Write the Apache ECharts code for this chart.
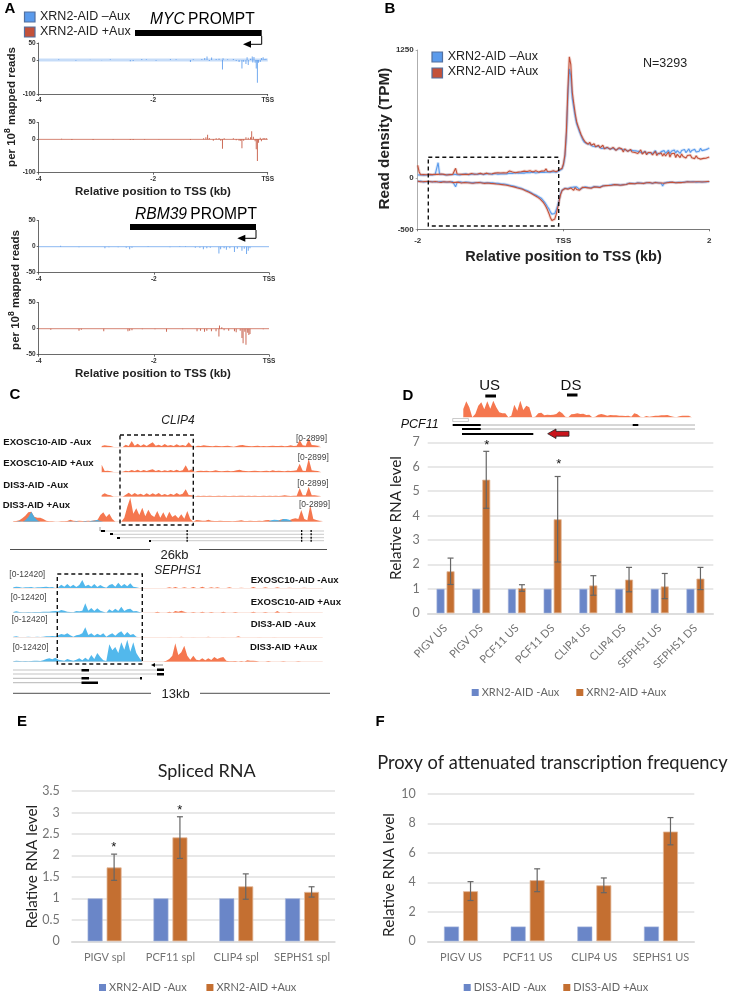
<!DOCTYPE html>
<html><head><meta charset="utf-8">
<style>html,body{margin:0;padding:0;background:#fff}#c{width:745px;height:1005px}</style>
<script src="https://cdn.jsdelivr.net/npm/echarts@6/dist/echarts.min.js"></script>
</head><body><div id="c"></div>
<script>
// ---------- Panel A: sparse read signal [kb, value]
const mycMinus=[[-3.65,2],[-3.35,-2],[-3.1,1],[-2.9,-1],[-2.75,2],[-2.4,-4],[-2.35,-3],[-2.2,3],[-2.12,2],[-1.95,-2],[-1.7,3],[-1.6,2],[-1.35,-6],[-1.3,2],[-1.15,3],[-1.1,6],[-1.06,10],[-1.02,-3],[-0.98,7],[-0.9,3],[-0.85,4],[-0.79,-28],[-0.78,5],[-0.7,2],[-0.6,3],[-0.55,-3],[-0.5,-6],[-0.45,-25],[-0.42,-5],[-0.38,-12],[-0.36,8],[-0.34,-15],[-0.3,4],[-0.27,10],[-0.26,-7],[-0.24,9],[-0.22,-8],[-0.2,-25],[-0.18,-67],[-0.16,-8],[-0.13,-6],[-0.11,6],[-0.08,8],[-0.05,3],[-0.03,4]];
const mycPlus=[[-3.6,2],[-3.42,-2],[-3.05,-2],[-2.7,-1],[-2.4,-2],[-2.35,-2],[-2.15,-1],[-1.9,1],[-1.35,-2],[-1.12,3],[-1.08,6],[-1.05,14],[-1.02,4],[-0.95,-4],[-0.9,3],[-0.85,4],[-0.82,-4],[-0.79,-28],[-0.76,3],[-0.6,3],[-0.55,-3],[-0.5,-4],[-0.47,-5],[-0.45,-27],[-0.42,-4],[-0.38,6],[-0.34,5],[-0.3,6],[-0.28,24],[-0.25,8],[-0.22,-6],[-0.2,-30],[-0.18,-65],[-0.16,-10],[-0.13,5],[-0.11,-6],[-0.08,4],[-0.05,4],[-0.02,3]];
const rbmMinus=[[-3.62,2],[-3.3,-1],[-2.85,-3],[-2.78,-1],[-2.62,-1],[-2.48,-2],[-2.42,-5],[-2.38,-2],[-2.1,1],[-1.72,-1],[-1.55,1],[-1.45,1],[-1.28,-2],[-1.2,-2],[-1.14,-5],[-1.08,-3],[-1.02,-2],[-0.87,-13],[-0.84,-5],[-0.78,-3],[-0.74,-6],[-0.68,-3],[-0.6,-10],[-0.55,-4],[-0.47,-8],[-0.43,-4],[-0.39,-14],[-0.36,-8],[-0.33,-3]];
const rbmPlus=[[-3.79,-2],[-3.3,-4],[-3.26,-2],[-2.87,-5],[-2.45,-5],[-2.42,-4],[-2.38,-3],[-2.2,-1],[-1.98,-1],[-1.78,-6],[-1.5,-1],[-1.25,-5],[-1.19,-4],[-1.12,-6],[-1.08,-4],[-1,-5],[-0.92,-5],[-0.87,-15],[-0.86,6],[-0.82,3],[-0.78,-3],[-0.7,-4],[-0.6,-5],[-0.57,-7],[-0.5,-4],[-0.47,-18],[-0.45,-28],[-0.42,-6],[-0.4,-31],[-0.37,-8],[-0.35,-12],[-0.33,-10],[-0.1,-1]];
const axTicksY=[-100,0,50], axTicksY2=[-50,0,50], axTicksX=[-4,-2,0];

// ---------- Panel B: metagene, one value every 0.02 kb from -2 to 2
const metaStart=-2, metaStep=0.02;
const senseMinus=[30,34,32,27,28,33,30,26,33,36,30,28,35,33,150,36,32,36,35,31,30,34,36,32,33,38,38,34,35,31,34,37,38,41,36,33,40,37,35,39,38,36,40,43,37,34,42,39,40,44,38,35,42,45,40,37,44,41,46,39,45,41,43,47,48,44,50,52,70,48,46,51,50,48,52,55,48,52,55,58,52,49,58,54,54,58,60,56,56,60,62,58,58,62,60,57,65,70,75,88,130,210,420,800,1065,1000,780,690,600,530,490,450,415,380,355,345,335,325,332,318,310,322,305,295,312,300,288,305,292,280,295,310,285,272,290,300,275,268,288,295,280,262,278,290,265,255,272,260,268,252,265,248,258,270,245,252,262,240,255,248,260,238,252,268,242,250,235,258,245,268,242,255,272,238,262,250,275,245,268,255,240,270,252,278,248,262,285,250,270,258,280,255,272,262,290,268,282,275,290,285,295];
const sensePlus=[125,60,32,28,35,30,32,28,36,30,34,30,38,34,36,33,40,32,36,38,30,36,34,38,35,32,95,40,36,38,33,36,40,38,42,36,38,44,40,37,42,40,38,46,44,38,42,48,44,40,46,42,50,48,44,52,48,50,58,52,55,50,58,70,85,60,56,52,62,58,55,62,58,68,60,64,58,72,62,60,65,72,60,58,66,68,62,70,90,64,68,62,70,72,66,62,72,78,84,95,140,230,460,860,1184,1110,840,730,630,550,505,465,425,395,370,350,345,330,350,320,315,335,305,300,320,295,290,320,285,275,300,315,280,270,300,310,270,260,295,305,285,255,285,300,260,250,280,255,270,250,268,240,255,275,235,250,260,228,250,235,250,225,240,262,220,240,225,245,215,240,215,235,255,205,238,220,242,200,232,215,200,235,210,228,195,220,205,225,198,215,190,218,195,205,185,200,192,210,195,200,205];
const antiMinus=[-33,-36,-30,-34,-38,-32,-36,-40,-33,-37,-35,-30,-38,-42,-36,-39,-34,-44,-37,-41,-40,-36,-39,-42,-35,-38,-85,-44,-41,-37,-38,-43,-44,-40,-36,-41,-43,-47,-40,-44,-42,-46,-46,-40,-43,-48,-48,-45,-42,-47,-50,-46,-48,-52,-52,-50,-56,-58,-52,-58,-60,-63,-66,-70,-72,-76,-78,-82,-85,-92,-95,-100,-105,-112,-115,-122,-130,-136,-145,-152,-160,-166,-175,-182,-190,-200,-215,-235,-255,-280,-300,-330,-352,-358,-345,-310,-270,-215,-150,-118,-105,-100,-96,-102,-110,-92,-100,-88,-104,-86,-100,-110,-118,-96,-94,-86,-100,-92,-85,-94,-90,-82,-92,-84,-78,-88,-80,-76,-84,-72,-78,-70,-74,-66,-70,-62,-68,-64,-60,-68,-58,-64,-54,-60,-56,-50,-58,-52,-48,-54,-52,-46,-50,-48,-44,-54,-48,-44,-50,-46,-46,-52,-44,-42,-48,-46,-44,-50,-78,-48,-44,-42,-46,-40,-44,-42,-38,-44,-40,-42,-38,-42,-36,-40,-38,-34,-40,-36,-38,-34,-36,-40,-34,-38,-32,-36,-34,-38,-32,-36,-33];
const antiPlus=[-30,-34,-36,-31,-35,-38,-33,-36,-34,-30,-38,-36,-33,-40,-38,-35,-42,-38,-36,-41,-38,-43,-36,-40,-44,-38,-42,-46,-40,-44,-48,-42,-44,-40,-46,-42,-48,-44,-50,-44,-46,-50,-44,-52,-48,-46,-52,-50,-48,-54,-52,-50,-54,-56,-58,-56,-60,-62,-64,-66,-68,-70,-72,-76,-80,-84,-86,-92,-95,-100,-102,-106,-110,-118,-124,-130,-136,-142,-150,-158,-168,-176,-184,-192,-205,-218,-235,-255,-280,-310,-345,-385,-415,-420,-400,-355,-290,-225,-160,-122,-110,-102,-98,-108,-118,-96,-106,-120,-92,-112,-98,-118,-104,-90,-100,-92,-108,-96,-90,-100,-92,-86,-96,-88,-82,-92,-84,-78,-88,-74,-80,-72,-76,-70,-74,-64,-72,-66,-62,-70,-60,-66,-56,-62,-58,-52,-60,-54,-50,-56,-54,-48,-52,-50,-46,-52,-50,-46,-50,-44,-48,-50,-44,-44,-50,-48,-42,-48,-46,-50,-42,-46,-48,-42,-46,-40,-42,-46,-38,-44,-40,-44,-38,-40,-42,-36,-42,-38,-34,-38,-40,-36,-42,-36,-32,-38,-34,-36,-30,-34,-34];
const metaTicksY=[-500,0,1250], metaTicksX=[-2,0,2];

// ---------- Panel C: browser tracks, one height per bin
const clip4Row1=[3,5,4,3,0,0,0,0,7,3,18,4,10,3,8,3,9,14,4,7,3,9,4,6,3,8,4,6,3,14,4,0,4,3,5,4,3,2,4,3,2,3,4,2,1,3,5,6,4,3,2,3,4,2,3,2,3,4,3,3,4,2,3,5,3,4,21,5,4,26,6,5,4,3];
const clip4Row2=[22,3,4,2,0,0,0,1,4,2,6,3,7,2,6,3,6,8,3,6,2,5,3,6,3,7,3,5,20,4,8,0,3,4,3,4,2,3,5,3,2,3,4,2,3,5,7,4,3,2,3,4,3,2,3,4,2,5,3,4,3,2,4,3,4,5,25,4,3,40,5,4,3,3];
const clip4Row3=[5,10,6,4,0,0,0,0,6,12,5,11,6,9,4,10,5,10,6,11,4,8,4,9,5,11,6,9,22,5,4,0,3,2,3,2,3,2,2,3,2,3,2,2,3,2,3,3,2,3,2,3,2,2,3,2,3,2,3,2,3,4,3,2,3,3,26,4,4,30,4,4,3,2];
const clip4Row4=[1,2,4,10,18,28,30,15,12,12,8,3,1,1,0,0,1,1,2,6,3,2,3,2,2,3,2,4,4,20,28,14,24,8,0,0,0,12,45,72,24,40,20,42,16,36,20,14,32,12,28,10,30,14,20,10,22,9,32,8,0,5,4,3,3,6,3,2,2,3,2,2,2,1,2,3,4,2,2,3,2,2,3,2,4,5,3,2,3,6,8,5,4,8,10,8,35,8,4,50,8,5,3,2];
const clip4Row4Blue=[[2,2],[4,4],[5,14],[6,30],[7,14],[8,4],[19,1],[21,2],[24,2],[26,3],[27,3],[28,6],[29,2],[86,4],[87,6],[88,5],[89,3],[90,8],[91,8],[92,6]];
const sephs1Row1Blue=[2,4,3,1,2,2,3,1,2,2,3,4,2,3,0,2,10,4,12,4,10,3,9,24,5,10,4,12,3,9,4,1,9,12,4,16,5,12,5,14,4,2,0];
const sephs1Row2Blue=[2,4,2,1,1,2,1,2,2,2,3,3,3,4,5,4,8,6,3,2,1,5,4,6,28,6,14,5,13,6,3,0,10,4,12,5,18,5,10,12,4,5,2];
const sephs1Row3Blue=[2,3,1,1,1,2,1,1,2,1,2,3,3,4,3,6,10,8,12,6,2,6,8,12,30,7,12,5,11,6,12,2,8,12,5,13,18,6,16,7,10,2,0];
const sephs1Row4Blue=[1,3,2,1,2,1,2,3,3,2,4,8,10,7,12,6,4,3,8,5,3,6,10,4,12,5,20,8,26,14,4,2,52,34,44,26,58,36,66,30,58,26,12];
const sephs1Row1Red=[[52,2],[54,3],[57,2],[60,3],[63,4],[66,2],[68,2],[72,2],[76,1],[80,3],[84,2],[88,2],[92,1],[97,1]];
const sephs1Row2Red=[[48,3],[52,3],[54,5],[55,3],[56,6],[57,3],[60,2],[63,3],[66,2],[70,3],[74,2],[80,3],[84,2],[88,5],[92,1]];
const sephs1Row3Red=[[52,1],[56,2],[60,1],[65,2],[70,1],[75,3],[82,1],[87,1]];
const sephs1Row4Red=[[51,3],[52,8],[53,18],[54,55],[55,20],[56,28],[57,48],[58,18],[59,6],[60,18],[61,6],[62,4],[63,10],[64,4],[65,10],[66,5],[67,14],[68,8],[69,12],[70,14],[71,3],[72,1],[73,1],[74,2],[76,2],[78,4],[79,3],[80,3],[81,2],[85,2],[90,1],[95,1]];
const pcf11Track=[25,48,30,0,10,35,45,24,48,26,50,30,15,12,12,0,5,38,20,50,22,35,30,0,2,12,14,6,8,7,8,10,18,12,2,0,9,10,12,10,11,7,8,0,2,8,10,8,5,7,6,6,5,5,4,5,2,12,9,2,0,4,2,3,5,5,6,6,7,4,2,0,3,5,5,5,3];

// ---------- Panel D
const dCats=['PIGV US','PIGV DS','PCF11 US','PCF11 DS','CLIP4 US','CLIP4 DS','SEPHS1 US','SEPHS1 DS'];
const dMinus=[1,1,1,1,1,1,1,1];
const dPlus=[1.72,5.47,1.03,3.85,1.14,1.38,1.10,1.42];
const dLow=[1.18,4.3,0.9,2.1,0.74,0.88,0.6,0.97];
const dHigh=[2.26,6.63,1.17,5.6,1.54,1.88,1.63,1.88];
// ---------- Panel E
const eCats=['PIGV spl','PCF11 spl','CLIP4 spl','SEPHS1 spl'];
const eMinus=[1,1,1,1];
const ePlus=[1.72,2.42,1.28,1.15];
const eLow=[1.42,1.93,0.98,1.03];
const eHigh=[2.03,2.9,1.57,1.27];
// ---------- Panel F
const fCats=['PIGV US','PCF11 US','CLIP4 US','SEPHS1 US'];
const fMinus=[1,1,1,1];
const fPlus=[3.4,4.15,3.8,7.45];
const fLow=[2.77,3.37,3.3,6.55];
const fHigh=[4.05,4.92,4.3,8.4];

// ---------- build
const W=745,H=1005;
const ARIAL='"Liberation Sans",Arial,sans-serif', LATO='Lato,"Open Sans",sans-serif';
const BLUE='#5b9bec',RED='#c3513a',TBLUE='#3fb0ea',TRED='#f4683c',BARB='#6a86c8',BARO='#c46f31';
const grids=[],xAxes=[],yAxes=[],series=[],g=[],legends=[];
function addGrid(l,t,r,b){grids.push({left:l,top:t,width:r-l,height:b-t,containLabel:false});return grids.length-1;}

function signalPanel(l,r,t,b,yMin,yMax,yTicks,data,color,band){
  const i=addGrid(l,t,r,b);
  const lab={fontFamily:ARIAL,fontWeight:'bold',fontSize:6.5,color:'#333',margin:3};
  xAxes.push({gridIndex:i,type:'value',min:-4,max:0,axisLine:{onZero:false,lineStyle:{color:'#444',width:0.8}},
    axisTick:{show:true,length:2,lineStyle:{color:'#444',width:0.8},customValues:axTicksX},
    axisLabel:{...lab,customValues:axTicksX,formatter:v=>v===0?'TSS':String(v)},splitLine:{show:false}});
  yAxes.push({gridIndex:i,type:'value',min:yMin,max:yMax,axisLine:{show:true,onZero:false,lineStyle:{color:'#444',width:0.8}},
    axisTick:{show:true,length:2,lineStyle:{color:'#444',width:0.8},customValues:yTicks},
    axisLabel:{...lab,customValues:yTicks},splitLine:{show:false}});
  series.push({type:'line',xAxisIndex:i,yAxisIndex:i,data:[[-4,0],[0,0]],showSymbol:false,silent:true,
    lineStyle:{color:color,width:band,opacity:band>1?0.35:0.7}});
  series.push({type:'bar',xAxisIndex:i,yAxisIndex:i,data:data,barWidth:1,itemStyle:{color:color,opacity:0.85},silent:true});
}
signalPanel(38.7,267.7,43,94,-100,50,axTicksY,mycMinus,BLUE,3);
signalPanel(38.7,267.7,122.7,172.7,-100,50,axTicksY,mycPlus,RED,1);
signalPanel(38.7,269,220.7,272.7,-50,50,axTicksY2,rbmMinus,BLUE,1);
signalPanel(38.7,269,302.7,354.7,-50,50,axTicksY2,rbmPlus,RED,1);

// metagene
(function(){
  const i=addGrid(417.7,50,709.3,229.3);
  const lab={fontFamily:ARIAL,fontWeight:'bold',fontSize:8,color:'#333',margin:4};
  xAxes.push({gridIndex:i,type:'value',min:-2,max:2,axisLine:{onZero:false,lineStyle:{color:'#555',width:0.8}},
    axisTick:{show:true,length:2,customValues:metaTicksX,lineStyle:{color:'#555',width:0.8}},
    axisLabel:{...lab,margin:7,customValues:metaTicksX,formatter:v=>v===0?'TSS':String(v)},splitLine:{show:false}});
  yAxes.push({gridIndex:i,type:'value',min:-500,max:1250,axisLine:{show:true,onZero:false,lineStyle:{color:'#999',width:0.8}},
    axisTick:{show:true,length:2,customValues:metaTicksY,lineStyle:{color:'#999',width:0.8}},
    axisLabel:{...lab,customValues:metaTicksY,formatter:v=>String(v)},splitLine:{show:false}});
  const pts=a=>a.map((v,k)=>[metaStart+k*metaStep,v]);
  [[senseMinus,BLUE],[antiMinus,BLUE],[sensePlus,RED],[antiPlus,RED]].forEach(([a,c])=>{
    series.push({type:'line',xAxisIndex:i,yAxisIndex:i,data:pts(a),showSymbol:false,silent:true,lineStyle:{color:c,width:3,opacity:0.22}});
  });
  [[senseMinus,BLUE],[antiMinus,BLUE],[sensePlus,RED],[antiPlus,RED]].forEach(([a,c])=>{
    series.push({type:'line',xAxisIndex:i,yAxisIndex:i,data:pts(a),showSymbol:false,silent:true,lineStyle:{color:c,width:1.1}});
  });
})();

// browser tracks: filled signal profiles
function dense(d,bins){ // sparse [bin,height] pairs or short height lists -> one height per bin
  const out=new Array(bins).fill(0);
  d.forEach((v,k)=>{ if(Array.isArray(v)) out[v[0]]=v[1]; else out[k]=v; });
  return out;
}
function track(left,base,bins,layers){
  const h=24,i=addGrid(left,base-h,left+(bins-1)*3,base);
  xAxes.push({gridIndex:i,type:'category',data:Array.from({length:bins},(_,k)=>k),boundaryGap:false,
    axisLine:{show:true,onZero:false,lineStyle:{color:'#f9ded4',width:0.7}},axisTick:{show:false},axisLabel:{show:false},splitLine:{show:false}});
  yAxes.push({gridIndex:i,type:'value',min:0,max:72,show:false,splitLine:{show:false}});
  layers.forEach(([d,c])=>series.push({type:'line',xAxisIndex:i,yAxisIndex:i,data:dense(d,bins),showSymbol:false,silent:true,
    lineStyle:{width:0},areaStyle:{color:c,opacity:0.9}}));
}
track(101.7,447,74,[[clip4Row1,TRED]]);
track(101.7,472,74,[[clip4Row2,TRED]]);
track(101.7,496.7,74,[[clip4Row3,TRED]]);
track(13.3,521.7,104,[[clip4Row4,TRED],[clip4Row4Blue,TBLUE]]);
track(13.3,588,104,[[sephs1Row1Blue,TBLUE],[sephs1Row1Red,TRED]]);
track(13.3,612.7,104,[[sephs1Row2Blue,TBLUE],[sephs1Row2Red,TRED]]);
track(13.3,637.3,104,[[sephs1Row3Blue,TBLUE],[sephs1Row3Red,TRED]]);
track(13.3,661.7,104,[[sephs1Row4Blue,TBLUE],[sephs1Row4Red,TRED]]);
track(463.3,417.3,77,[[pcf11Track,TRED]]);

// Excel-like bar charts
function barPanel(o){
  const i=addGrid(o.l,o.t,o.r,o.b);
  const grey='#737373';
  xAxes.push({gridIndex:i,type:'category',data:o.cats,axisLine:{lineStyle:{color:'#d9d9d9',width:1.5}},axisTick:{show:false},
    axisLabel:{interval:0,rotate:o.rotate||0,fontFamily:LATO,fontSize:o.catSize,color:grey,margin:o.catMargin}});
  yAxes.push({gridIndex:i,type:'value',min:0,max:o.max,interval:o.step,axisLine:{show:false},axisTick:{show:false},
    splitLine:{lineStyle:{color:'#e0e0e0',width:1.5}},axisLabel:{fontFamily:LATO,fontSize:o.tickSize,color:grey,margin:o.tickMargin}});
  series.push({name:o.names[0],type:'bar',xAxisIndex:i,yAxisIndex:i,data:o.minus,barWidth:o.bw,barGap:(o.gap/o.bw*100)+'%',itemStyle:{color:BARB,borderColor:'#a9b9de',borderWidth:0.6},silent:true});
  series.push({name:o.names[1],type:'bar',xAxisIndex:i,yAxisIndex:i,data:o.plus,barWidth:o.bw,itemStyle:{color:BARO,borderColor:'#e2b99b',borderWidth:0.8},silent:true});
  const off=(o.bw+o.gap)/2;
  series.push({type:'custom',xAxisIndex:i,yAxisIndex:i,silent:true,z:5,clip:false,
    data:o.low.map((v,k)=>[k,v,o.high[k]]),encode:{x:0,y:[1,2]},
    renderItem(p,api){
      const a=api.coord([api.value(0),api.value(1)]),b=api.coord([api.value(0),api.value(2)]);
      const x=a[0]+off,c=o.cap,st={stroke:'#666',lineWidth:1.2,fill:null};
      return {type:'group',children:[
        {type:'line',shape:{x1:x,y1:a[1],x2:x,y2:b[1]},style:st},
        {type:'line',shape:{x1:x-c,y1:a[1],x2:x+c,y2:a[1]},style:st},
        {type:'line',shape:{x1:x-c,y1:b[1],x2:x+c,y2:b[1]},style:st}]};
    }});
  legends.push({data:o.names,left:o.legLeft,top:o.legTop,icon:'rect',itemWidth:7,itemHeight:7,itemGap:o.legGap,selectedMode:false,padding:0,
    itemStyle:{borderWidth:0},textStyle:{fontFamily:LATO,fontSize:11,color:'#666',padding:[0,0,0,-2]}});
}
barPanel({l:427.7,r:713.3,t:442.3,b:613.3,cats:dCats,minus:dMinus,plus:dPlus,low:dLow,high:dHigh,max:7,step:1,bw:8,gap:2,cap:3,rotate:45,catSize:11,catMargin:13,tickSize:12.5,tickMargin:8,
  names:['XRN2-AID -Aux','XRN2-AID +Aux'],legLeft:471.7,legTop:687,legGap:17});
barPanel({l:71.7,r:335,t:791,b:941.3,cats:eCats,minus:eMinus,plus:ePlus,low:eLow,high:eHigh,max:3.5,step:0.5,bw:15,gap:4,cap:3,catSize:11,catMargin:11,tickSize:12.5,tickMargin:12,
  names:['XRN2-AID -Aux ','XRN2-AID +Aux '],legLeft:99,legTop:982,legGap:17});
barPanel({l:427.7,r:694.3,t:794,b:941.3,cats:fCats,minus:fMinus,plus:fPlus,low:fLow,high:fHigh,max:10,step:2,bw:15,gap:4,cap:3,catSize:11,catMargin:11,tickSize:12.5,tickMargin:12,
  names:['DIS3-AID -Aux','DIS3-AID +Aux'],legLeft:463.7,legTop:982,legGap:17});

// annotation helpers
function T(x,y,text,size,opt){opt=opt||{};
  g.push({type:'text',x:x,y:y,rotation:opt.rot||0,z:20,style:{text:text,fontFamily:opt.font||ARIAL,fontSize:size,fontWeight:opt.bold?'bold':'normal',fontStyle:opt.italic?'italic':'normal',fill:opt.color||'#111',align:opt.align||'left',verticalAlign:'middle',rich:opt.rich}});}
function R(x0,y0,x1,y1,c){g.push({type:'rect',z:15,shape:{x:x0,y:y0,width:x1-x0,height:y1-y0},style:{fill:c||'#000'}});}
function L(x0,y0,x1,y1,c,w){g.push({type:'line',z:14,shape:{x1:x0,y1:y0,x2:x1,y2:y1},style:{stroke:c||'#000',lineWidth:w||1}});}
function DB(x0,y0,x1,y1){g.push({type:'rect',z:18,shape:{x:x0,y:y0,width:x1-x0,height:y1-y0},style:{fill:null,stroke:'#111',lineWidth:1.4,lineDash:[4,3]}});}
function SW(x,y,c){g.push({type:'rect',z:16,shape:{x:x,y:y,width:10.5,height:10},style:{fill:c,stroke:'#52709f',lineWidth:1.2}});}
function ARROW(x0,y0,y1,x1){g.push({type:'polyline',z:16,shape:{points:[[x0,y0],[x0,y1],[x1+5,y1]]},style:{stroke:'#000',lineWidth:1,fill:null}});
  g.push({type:'polygon',z:16,shape:{points:[[x1,y1],[x1+8,y1-3.5],[x1+8,y1+3.5]]},style:{fill:'#000'}});}
// panel letters
[['A',10,9],['B',390,9],['C',15,395],['D',408,396],['E',22,722],['F',380,722]].forEach(p=>T(p[1],p[2],p[0],15,{bold:true,align:'center',color:'#000'}));
// A
SW(24.5,12,BLUE);SW(24.5,27,RED);
T(40,16.7,'XRN2-AID –Aux',12.5,{color:'#222'});T(40,31.7,'XRN2-AID +Aux',12.5,{color:'#222'});
g.push({type:'text',x:150,y:19.5,z:20,style:{text:'{i|MYC} {n|PROMPT}',verticalAlign:'middle',rich:{i:{fontFamily:ARIAL,fontSize:15.6,fontStyle:'italic',fill:'#000'},n:{fontFamily:ARIAL,fontSize:15.6,fill:'#000'}}}});
R(135,30,261.7,36);ARROW(261.7,36,44.3,243);
g.push({type:'text',x:135,y:215,z:20,style:{text:'{i|RBM39} {n|PROMPT}',verticalAlign:'middle',rich:{i:{fontFamily:ARIAL,fontSize:15.6,fontStyle:'italic',fill:'#000'},n:{fontFamily:ARIAL,fontSize:15.6,fill:'#000'}}}});
R(130,224,256,230);ARROW(256,230,238.3,237.3);
function yPer(x,y){g.push({type:'text',x:x,y:y,rotation:Math.PI/2,z:20,style:{text:'{a|per 10}{s|8}{a| mapped reads}',align:'center',verticalAlign:'middle',
  rich:{a:{fontFamily:ARIAL,fontWeight:'bold',fontSize:11.5,fill:'#222',lineHeight:17},s:{fontFamily:ARIAL,fontWeight:'bold',fontSize:8.5,fill:'#222',verticalAlign:'top',lineHeight:9}}}});}
yPer(12,107);yPer(16,290);
T(153,192,'Relative position to TSS (kb)',11.5,{bold:true,align:'center',color:'#222'});
T(153,374,'Relative position to TSS (kb)',11.5,{bold:true,align:'center',color:'#222'});
// B
SW(432,52,BLUE);SW(432,68,RED);
T(447.7,56.7,'XRN2-AID –Aux',12.5,{color:'#222'});T(447.7,71.7,'XRN2-AID +Aux',12.5,{color:'#222'});
T(643,64,'N=3293',12.5,{color:'#222'});
DB(428.3,157.3,558.7,226);
T(385,138.6,'Read density (TPM)',15.3,{bold:true,rot:Math.PI/2,align:'center',color:'#222'});
T(563.5,256.7,'Relative position to TSS (kb)',14.5,{bold:true,align:'center',color:'#222'});
// C
T(178,420.7,'CLIP4',12,{italic:true,align:'center',color:'#222'});
DB(120,435,193.3,525);
[['EXOSC10-AID -Aux',3.3,442.7],['EXOSC10-AID +Aux',3.3,463],['DIS3-AID -Aux',3.3,485],['DIS3-AID +Aux',2.7,505.7]].forEach(p=>T(p[1],p[2],p[0],9.6,{bold:true}));
[[296,438.3],[297.7,457.7],[297.3,484],[299,505]].forEach(p=>T(p[0],p[1],'[0-2899]',8.5,{color:'#444'}));
L(100,531,324,531,'#bbb',0.8);L(110,534.3,324,534.3,'#bbb',0.8);L(117,537.7,324,537.7,'#bbb',0.8);L(150,540.7,324,540.7,'#bbb',0.8);
L(100,527,100,531,'#555',0.6);R(101,530,105,532);R(110,533,113,535);R(117,537,120,539);R(149,540,151,542);
[186.5,301,310.5].forEach(x=>{[531,534.3,537.7,540.7].forEach(y=>R(x,y-1,x+1.3,y+1));});
L(10,549.5,150,549.5,'#222',0.8);L(199,549.5,327,549.5,'#222',0.8);
T(174.5,555,'26kb',13,{align:'center',color:'#222'});
// SEPHS1
T(178,570.7,'SEPHS1',12,{italic:true,align:'center',color:'#222'});
DB(57.3,574,142.3,664);
[['EXOSC10-AID -Aux',250.7,580],['EXOSC10-AID +Aux',250.7,602.7],['DIS3-AID -Aux',250.7,624.7],['DIS3-AID +Aux',250,647.3]].forEach(p=>T(p[1],p[2],p[0],9.6,{bold:true}));
[[9.3,574.7],[10.7,597.3],[11.7,620],[12.7,647.3]].forEach(p=>T(p[0],p[1],'[0-12420]',8.5,{color:'#444'}));
L(13,670,158,670,'#c4c4c4',1.2);L(13,674,158,674,'#c4c4c4',1.2);L(13,678.3,140,678.3,'#c4c4c4',1.2);L(13,682.7,98,682.7,'#c4c4c4',1.2);
R(81.5,669,89,671.5);R(81.5,677,89,679.5);R(81.5,681.5,98,684);R(157,668.5,164,671);R(157,673,164,675.5);R(140,677,142,679.5);
g.push({type:'polygon',z:16,shape:{points:[[151,665],[155,663],[155,667]]},style:{fill:'#000'}});L(155,665,163,665,'#555',0.7);
L(13,693.3,151,693.3,'#222',0.8);L(200,693.3,330,693.3,'#222',0.8);
T(175.7,694,'13kb',13,{align:'center',color:'#222'});
// D decoration
T(489.7,385.7,'US',15,{align:'center',color:'#111'});T(571,386.3,'DS',15,{align:'center',color:'#111'});
R(485.3,394.5,496,397.5);R(567,393.5,577.5,396.5);
T(400.7,425,'PCF11',12.5,{italic:true,color:'#111'});
L(452.7,425,695,425,'#999',0.8);L(462,429,695,429,'#999',0.8);
g.push({type:'rect',z:14,shape:{x:452.7,y:418.5,width:15.7,height:3},style:{fill:'#fff',stroke:'#aaa',lineWidth:0.6}});
R(452.7,424,480.7,426);R(462,428,480.7,430);R(462,433,533.3,435);R(632.7,424,638.3,426);
g.push({type:'polygon',z:16,shape:{points:[[547.7,433.7],[556,429],[556,431.3],[569,431.3],[569,436.2],[556,436.2],[556,438.5]]},style:{fill:'#c9141c',stroke:'#222',lineWidth:0.8}});
T(486.7,445.7,'*',13,{align:'center',color:'#111'});T(558.7,464,'*',13,{align:'center',color:'#111'});
T(396,518,'Relative RNA level',15.3,{font:LATO,rot:Math.PI/2,align:'center',color:'#222'});
// E
T(206.7,771,'Spliced RNA',18,{font:LATO,align:'center',color:'#222'});
T(31.7,866.7,'Relative RNA level',15.3,{font:LATO,rot:Math.PI/2,align:'center',color:'#222'});
T(113.7,847,'*',13,{align:'center',color:'#111'});T(179.7,810,'*',13,{align:'center',color:'#111'});
// F
T(552.5,762.7,'Proxy of attenuated transcription frequency',18.3,{font:LATO,align:'center',color:'#222'});
T(389.3,875,'Relative RNA level',15.3,{font:LATO,rot:Math.PI/2,align:'center',color:'#222'});

const chart=echarts.init(document.getElementById('c'),null,{renderer:'canvas',width:W,height:H});
chart.setOption({animation:false,backgroundColor:'#fff',grid:grids,xAxis:xAxes,yAxis:yAxes,series:series,legend:legends,graphic:g,tooltip:{show:false}});
</script></body></html>
